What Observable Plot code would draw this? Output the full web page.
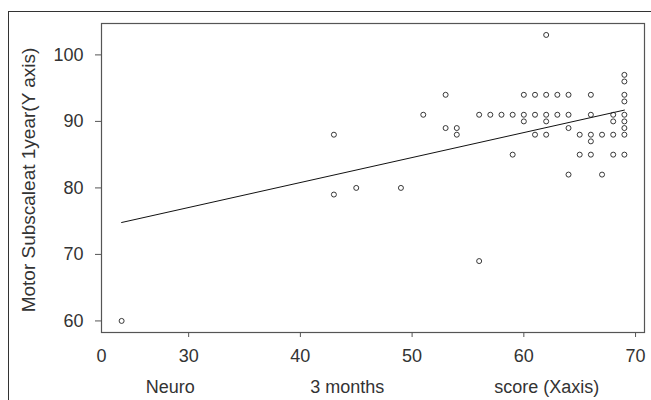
<!DOCTYPE html>
<html><head><meta charset="utf-8">
<script src="https://cdn.jsdelivr.net/npm/d3@7"></script>
<script src="https://cdn.jsdelivr.net/npm/@observablehq/plot@0.6"></script>
<style>
html,body{margin:0;padding:0;background:#fff;}
#wrap{position:relative;width:651px;height:400px;overflow:hidden;}
#outer{position:absolute;left:8px;top:11px;width:700px;height:500px;border-left:1.5px solid #333;border-top:1.5px solid #333;}
#chart{position:absolute;left:0;top:0;}
</style></head><body>
<div id="wrap"><div id="outer"></div><div id="chart"></div></div>
<script>
// Neuro 3 months score (x) and Motor Subscale at 1 year (y)
const neuroScore = [24,43,43,45,49,51,53,53,54,54,56,56,57,58,59,59,60,60,60,61,61,61,62,62,62,62,62,63,63,64,64,64,64,65,65,66,66,66,66,66,67,67,68,68,68,68,69,69,69,69,69,69,69,69,69];
const motorScore = [60,88,79,80,80,91,94,89,89,88,91,69,91,91,91,85,94,91,90,94,91,88,103,94,91,90,88,94,91,94,91,89,82,88,85,94,91,88,87,85,88,82,91,90,88,85,97,96,94,93,91,90,89,88,85];
// fitted line as drawn (end points)
const fitX = [24, 69];
const fitY = [74.8, 91.7];
const xTicks = [30, 40, 50, 60, 70];
const yTicks = [60, 70, 80, 90, 100];
const leftTickLabel = ["0"];
const xLabelParts = ["Neuro", "3 months", "score (Xaxis)"];
const yLabel = ["Motor Subscaleat 1year(Y axis)"];

const points = neuroScore.map((x, i) => ({x, y: motorScore[i]}));
const fit = fitX.map((x, i) => ({x, y: fitY[i]}));
const font = "'Liberation Sans', Arial, Helvetica, sans-serif";

const chart = Plot.plot({
  width: 651, height: 400,
  marginLeft: 101, marginRight: 7, marginTop: 23, marginBottom: 68,
  style: {fontFamily: font, fontSize: "18px", color: "#333", background: "none"},
  x: {domain: [22.2, 70.8]},
  y: {domain: [58.26, 104.72]},
  marks: [
    Plot.frame({stroke: "#555", strokeWidth: 1.2}),
    Plot.axisX({ticks: xTicks, tickSize: 5, tickPadding: 12, fontSize: 18, label: null, stroke: "#555"}),
    Plot.axisY({ticks: yTicks, tickSize: 6, tickPadding: 12, fontSize: 18, label: null, stroke: "#555"}),
    Plot.text(leftTickLabel, {text: d => d, frameAnchor: "bottom-left", textAnchor: "middle", lineAnchor: "top", dy: 17, fontSize: 18, fill: "#333"}),
    Plot.text(xLabelParts, {text: d => d, x: [28.35, 44.2, 62.05], frameAnchor: "bottom", textAnchor: "middle", lineAnchor: "bottom", dy: 60, fontSize: 18, fill: "#333"}),
    Plot.text(yLabel, {text: d => d, frameAnchor: "left", textAnchor: "middle", rotate: -90, dx: -73, dy: 2, fontSize: 19, fill: "#333"}),
    Plot.line(fit, {x: "x", y: "y", stroke: "#111", strokeWidth: 1}),
    Plot.dot(points, {x: "x", y: "y", r: 2.5, stroke: "#222", strokeWidth: 0.9, fill: "none"})
  ]
});
document.getElementById("chart").appendChild(chart);
</script>
</body></html>
